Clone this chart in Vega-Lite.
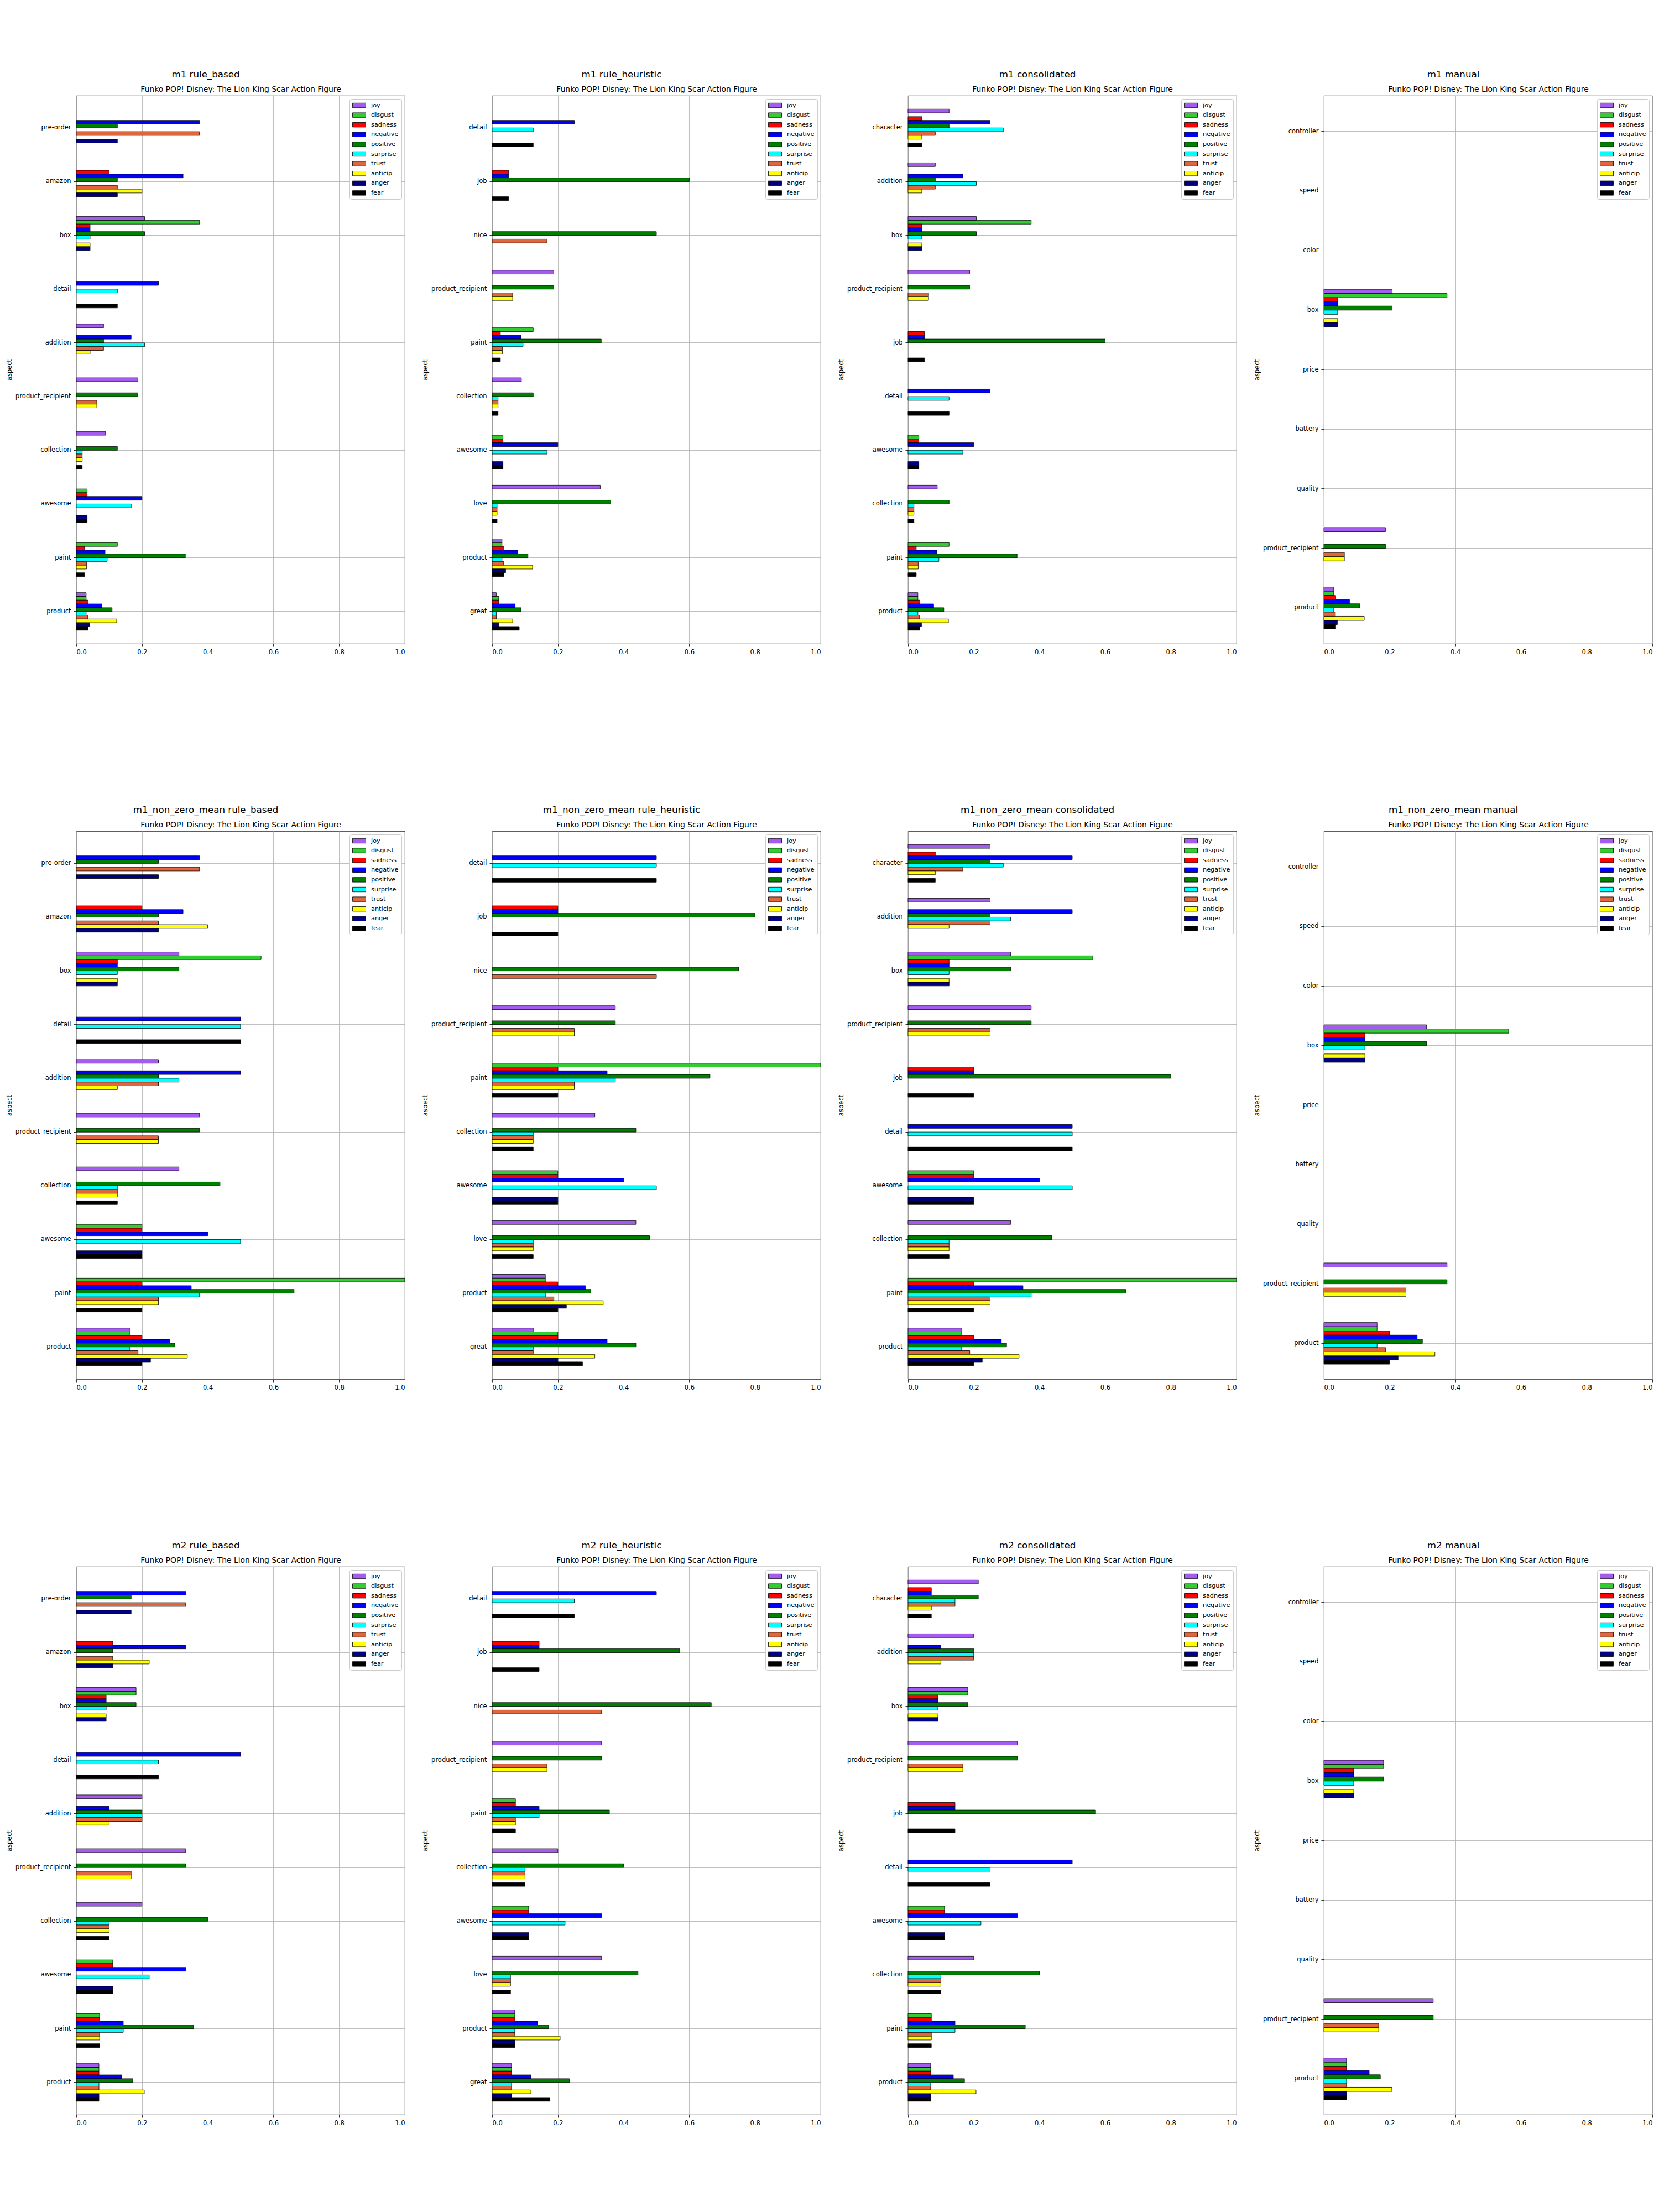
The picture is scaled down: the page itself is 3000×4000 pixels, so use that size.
{
  "$schema": "https://vega.github.io/schema/vega-lite/v6.json",
  "background": "white",
  "padding": {"left": 11, "top": 126, "right": 0, "bottom": 0},
  "config": {
    "font": "DejaVu Sans",
    "view": {"stroke": "black", "strokeWidth": 0.8},
    "axis": {"domain": false, "grid": true, "gridColor": "#b0b0b0", "gridWidth": 0.8, "tickColor": "black", "tickSize": 5, "tickWidth": 0.8, "labelColor": "black", "labelFontSize": 11.5, "labelPadding": 4, "titleFontSize": 11.5, "titleFontWeight": "normal", "titleColor": "black", "zindex": 1},
    "title": {"fontSize": 16.7, "fontWeight": "normal", "color": "black", "anchor": "middle", "frame": "bounds", "offset": 10},
    "legend": {"labelFontSize": 11.3, "labelColor": "black", "symbolType": "M-2,-0.7H2V0.7H-2Z", "symbolSize": 144, "symbolStrokeColor": "black", "symbolStrokeWidth": 0.8, "symbolOffset": 6, "labelOffset": 15, "rowPadding": 4.6, "padding": 5, "strokeColor": "#cccccc", "fillColor": "white", "cornerRadius": 3}
  },
  "datasets": {
    "m1": [
      {"aspect": "pre-order", "emotion": "negative", "value": 0.375},
      {"aspect": "pre-order", "emotion": "positive", "value": 0.125},
      {"aspect": "pre-order", "emotion": "trust", "value": 0.375},
      {"aspect": "pre-order", "emotion": "anger", "value": 0.125},
      {"aspect": "amazon", "emotion": "sadness", "value": 0.1},
      {"aspect": "amazon", "emotion": "negative", "value": 0.325},
      {"aspect": "amazon", "emotion": "positive", "value": 0.125},
      {"aspect": "amazon", "emotion": "trust", "value": 0.125},
      {"aspect": "amazon", "emotion": "anticip", "value": 0.2},
      {"aspect": "amazon", "emotion": "anger", "value": 0.125},
      {"aspect": "box", "emotion": "joy", "value": 0.208},
      {"aspect": "box", "emotion": "disgust", "value": 0.375},
      {"aspect": "box", "emotion": "sadness", "value": 0.042},
      {"aspect": "box", "emotion": "negative", "value": 0.042},
      {"aspect": "box", "emotion": "positive", "value": 0.208},
      {"aspect": "box", "emotion": "surprise", "value": 0.042},
      {"aspect": "box", "emotion": "anticip", "value": 0.042},
      {"aspect": "box", "emotion": "anger", "value": 0.042},
      {"aspect": "detail", "emotion": "negative", "value": 0.25},
      {"aspect": "detail", "emotion": "surprise", "value": 0.125},
      {"aspect": "detail", "emotion": "fear", "value": 0.125},
      {"aspect": "addition", "emotion": "joy", "value": 0.083},
      {"aspect": "addition", "emotion": "negative", "value": 0.167},
      {"aspect": "addition", "emotion": "positive", "value": 0.083},
      {"aspect": "addition", "emotion": "surprise", "value": 0.208},
      {"aspect": "addition", "emotion": "trust", "value": 0.083},
      {"aspect": "addition", "emotion": "anticip", "value": 0.042},
      {"aspect": "product_recipient", "emotion": "joy", "value": 0.1875},
      {"aspect": "product_recipient", "emotion": "positive", "value": 0.1875},
      {"aspect": "product_recipient", "emotion": "trust", "value": 0.0625},
      {"aspect": "product_recipient", "emotion": "anticip", "value": 0.0625},
      {"aspect": "collection", "emotion": "joy", "value": 0.089},
      {"aspect": "collection", "emotion": "positive", "value": 0.125},
      {"aspect": "collection", "emotion": "surprise", "value": 0.018},
      {"aspect": "collection", "emotion": "trust", "value": 0.018},
      {"aspect": "collection", "emotion": "anticip", "value": 0.018},
      {"aspect": "collection", "emotion": "fear", "value": 0.018},
      {"aspect": "awesome", "emotion": "disgust", "value": 0.033},
      {"aspect": "awesome", "emotion": "sadness", "value": 0.033},
      {"aspect": "awesome", "emotion": "negative", "value": 0.2},
      {"aspect": "awesome", "emotion": "surprise", "value": 0.167},
      {"aspect": "awesome", "emotion": "anger", "value": 0.033},
      {"aspect": "awesome", "emotion": "fear", "value": 0.033},
      {"aspect": "paint", "emotion": "disgust", "value": 0.125},
      {"aspect": "paint", "emotion": "sadness", "value": 0.025},
      {"aspect": "paint", "emotion": "negative", "value": 0.0875},
      {"aspect": "paint", "emotion": "positive", "value": 0.332},
      {"aspect": "paint", "emotion": "surprise", "value": 0.094},
      {"aspect": "paint", "emotion": "trust", "value": 0.031},
      {"aspect": "paint", "emotion": "anticip", "value": 0.031},
      {"aspect": "paint", "emotion": "fear", "value": 0.025},
      {"aspect": "product", "emotion": "joy", "value": 0.03},
      {"aspect": "product", "emotion": "disgust", "value": 0.03},
      {"aspect": "product", "emotion": "sadness", "value": 0.036},
      {"aspect": "product", "emotion": "negative", "value": 0.078},
      {"aspect": "product", "emotion": "positive", "value": 0.109},
      {"aspect": "product", "emotion": "surprise", "value": 0.03},
      {"aspect": "product", "emotion": "trust", "value": 0.035},
      {"aspect": "product", "emotion": "anticip", "value": 0.123},
      {"aspect": "product", "emotion": "anger", "value": 0.041},
      {"aspect": "product", "emotion": "fear", "value": 0.036},
      {"aspect": "job", "emotion": "sadness", "value": 0.05},
      {"aspect": "job", "emotion": "negative", "value": 0.05},
      {"aspect": "job", "emotion": "positive", "value": 0.6},
      {"aspect": "job", "emotion": "fear", "value": 0.05},
      {"aspect": "nice", "emotion": "positive", "value": 0.5},
      {"aspect": "nice", "emotion": "trust", "value": 0.167},
      {"aspect": "love", "emotion": "joy", "value": 0.329},
      {"aspect": "love", "emotion": "positive", "value": 0.361},
      {"aspect": "love", "emotion": "surprise", "value": 0.015},
      {"aspect": "love", "emotion": "trust", "value": 0.015},
      {"aspect": "love", "emotion": "anticip", "value": 0.015},
      {"aspect": "love", "emotion": "fear", "value": 0.015},
      {"aspect": "great", "emotion": "joy", "value": 0.0125},
      {"aspect": "great", "emotion": "disgust", "value": 0.02},
      {"aspect": "great", "emotion": "sadness", "value": 0.02},
      {"aspect": "great", "emotion": "negative", "value": 0.07},
      {"aspect": "great", "emotion": "positive", "value": 0.0875},
      {"aspect": "great", "emotion": "surprise", "value": 0.0125},
      {"aspect": "great", "emotion": "trust", "value": 0.0125},
      {"aspect": "great", "emotion": "anticip", "value": 0.0625},
      {"aspect": "great", "emotion": "anger", "value": 0.02},
      {"aspect": "great", "emotion": "fear", "value": 0.0825},
      {"aspect": "character", "emotion": "joy", "value": 0.125},
      {"aspect": "character", "emotion": "sadness", "value": 0.042},
      {"aspect": "character", "emotion": "negative", "value": 0.25},
      {"aspect": "character", "emotion": "positive", "value": 0.125},
      {"aspect": "character", "emotion": "surprise", "value": 0.29},
      {"aspect": "character", "emotion": "trust", "value": 0.083},
      {"aspect": "character", "emotion": "anticip", "value": 0.042},
      {"aspect": "character", "emotion": "fear", "value": 0.042}
    ],
    "m1nz": [
      {"aspect": "pre-order", "emotion": "negative", "value": 0.375},
      {"aspect": "pre-order", "emotion": "positive", "value": 0.25},
      {"aspect": "pre-order", "emotion": "trust", "value": 0.375},
      {"aspect": "pre-order", "emotion": "anger", "value": 0.25},
      {"aspect": "amazon", "emotion": "sadness", "value": 0.2},
      {"aspect": "amazon", "emotion": "negative", "value": 0.325},
      {"aspect": "amazon", "emotion": "positive", "value": 0.25},
      {"aspect": "amazon", "emotion": "trust", "value": 0.25},
      {"aspect": "amazon", "emotion": "anticip", "value": 0.4},
      {"aspect": "amazon", "emotion": "anger", "value": 0.25},
      {"aspect": "box", "emotion": "joy", "value": 0.3125},
      {"aspect": "box", "emotion": "disgust", "value": 0.5625},
      {"aspect": "box", "emotion": "sadness", "value": 0.125},
      {"aspect": "box", "emotion": "negative", "value": 0.125},
      {"aspect": "box", "emotion": "positive", "value": 0.3125},
      {"aspect": "box", "emotion": "surprise", "value": 0.125},
      {"aspect": "box", "emotion": "anticip", "value": 0.125},
      {"aspect": "box", "emotion": "anger", "value": 0.125},
      {"aspect": "detail", "emotion": "negative", "value": 0.5},
      {"aspect": "detail", "emotion": "surprise", "value": 0.5},
      {"aspect": "detail", "emotion": "fear", "value": 0.5},
      {"aspect": "addition", "emotion": "joy", "value": 0.25},
      {"aspect": "addition", "emotion": "negative", "value": 0.5},
      {"aspect": "addition", "emotion": "positive", "value": 0.25},
      {"aspect": "addition", "emotion": "surprise", "value": 0.3125},
      {"aspect": "addition", "emotion": "trust", "value": 0.25},
      {"aspect": "addition", "emotion": "anticip", "value": 0.125},
      {"aspect": "product_recipient", "emotion": "joy", "value": 0.375},
      {"aspect": "product_recipient", "emotion": "positive", "value": 0.375},
      {"aspect": "product_recipient", "emotion": "trust", "value": 0.25},
      {"aspect": "product_recipient", "emotion": "anticip", "value": 0.25},
      {"aspect": "collection", "emotion": "joy", "value": 0.3125},
      {"aspect": "collection", "emotion": "positive", "value": 0.4375},
      {"aspect": "collection", "emotion": "surprise", "value": 0.125},
      {"aspect": "collection", "emotion": "trust", "value": 0.125},
      {"aspect": "collection", "emotion": "anticip", "value": 0.125},
      {"aspect": "collection", "emotion": "fear", "value": 0.125},
      {"aspect": "awesome", "emotion": "disgust", "value": 0.2},
      {"aspect": "awesome", "emotion": "sadness", "value": 0.2},
      {"aspect": "awesome", "emotion": "negative", "value": 0.4},
      {"aspect": "awesome", "emotion": "surprise", "value": 0.5},
      {"aspect": "awesome", "emotion": "anger", "value": 0.2},
      {"aspect": "awesome", "emotion": "fear", "value": 0.2},
      {"aspect": "paint", "emotion": "disgust", "value": 1.0},
      {"aspect": "paint", "emotion": "sadness", "value": 0.2},
      {"aspect": "paint", "emotion": "negative", "value": 0.35},
      {"aspect": "paint", "emotion": "positive", "value": 0.663},
      {"aspect": "paint", "emotion": "surprise", "value": 0.375},
      {"aspect": "paint", "emotion": "trust", "value": 0.25},
      {"aspect": "paint", "emotion": "anticip", "value": 0.25},
      {"aspect": "paint", "emotion": "fear", "value": 0.2},
      {"aspect": "product", "emotion": "joy", "value": 0.162},
      {"aspect": "product", "emotion": "disgust", "value": 0.162},
      {"aspect": "product", "emotion": "sadness", "value": 0.2},
      {"aspect": "product", "emotion": "negative", "value": 0.284},
      {"aspect": "product", "emotion": "positive", "value": 0.3},
      {"aspect": "product", "emotion": "surprise", "value": 0.162},
      {"aspect": "product", "emotion": "trust", "value": 0.188},
      {"aspect": "product", "emotion": "anticip", "value": 0.338},
      {"aspect": "product", "emotion": "anger", "value": 0.226},
      {"aspect": "product", "emotion": "fear", "value": 0.2},
      {"aspect": "job", "emotion": "sadness", "value": 0.2},
      {"aspect": "job", "emotion": "negative", "value": 0.2},
      {"aspect": "job", "emotion": "positive", "value": 0.8},
      {"aspect": "job", "emotion": "fear", "value": 0.2},
      {"aspect": "nice", "emotion": "positive", "value": 0.75},
      {"aspect": "nice", "emotion": "trust", "value": 0.5},
      {"aspect": "love", "emotion": "joy", "value": 0.4375},
      {"aspect": "love", "emotion": "positive", "value": 0.479},
      {"aspect": "love", "emotion": "surprise", "value": 0.125},
      {"aspect": "love", "emotion": "trust", "value": 0.125},
      {"aspect": "love", "emotion": "anticip", "value": 0.125},
      {"aspect": "love", "emotion": "fear", "value": 0.125},
      {"aspect": "great", "emotion": "joy", "value": 0.125},
      {"aspect": "great", "emotion": "disgust", "value": 0.2},
      {"aspect": "great", "emotion": "sadness", "value": 0.2},
      {"aspect": "great", "emotion": "negative", "value": 0.35},
      {"aspect": "great", "emotion": "positive", "value": 0.4375},
      {"aspect": "great", "emotion": "surprise", "value": 0.125},
      {"aspect": "great", "emotion": "trust", "value": 0.125},
      {"aspect": "great", "emotion": "anticip", "value": 0.3125},
      {"aspect": "great", "emotion": "anger", "value": 0.2},
      {"aspect": "great", "emotion": "fear", "value": 0.275},
      {"aspect": "character", "emotion": "joy", "value": 0.25},
      {"aspect": "character", "emotion": "sadness", "value": 0.083},
      {"aspect": "character", "emotion": "negative", "value": 0.5},
      {"aspect": "character", "emotion": "positive", "value": 0.25},
      {"aspect": "character", "emotion": "surprise", "value": 0.29},
      {"aspect": "character", "emotion": "trust", "value": 0.167},
      {"aspect": "character", "emotion": "anticip", "value": 0.083},
      {"aspect": "character", "emotion": "fear", "value": 0.083}
    ],
    "m2": [
      {"aspect": "pre-order", "emotion": "negative", "value": 0.333},
      {"aspect": "pre-order", "emotion": "positive", "value": 0.167},
      {"aspect": "pre-order", "emotion": "trust", "value": 0.333},
      {"aspect": "pre-order", "emotion": "anger", "value": 0.167},
      {"aspect": "amazon", "emotion": "sadness", "value": 0.111},
      {"aspect": "amazon", "emotion": "negative", "value": 0.333},
      {"aspect": "amazon", "emotion": "positive", "value": 0.111},
      {"aspect": "amazon", "emotion": "trust", "value": 0.111},
      {"aspect": "amazon", "emotion": "anticip", "value": 0.222},
      {"aspect": "amazon", "emotion": "anger", "value": 0.111},
      {"aspect": "box", "emotion": "joy", "value": 0.182},
      {"aspect": "box", "emotion": "disgust", "value": 0.182},
      {"aspect": "box", "emotion": "sadness", "value": 0.091},
      {"aspect": "box", "emotion": "negative", "value": 0.091},
      {"aspect": "box", "emotion": "positive", "value": 0.182},
      {"aspect": "box", "emotion": "surprise", "value": 0.091},
      {"aspect": "box", "emotion": "anticip", "value": 0.091},
      {"aspect": "box", "emotion": "anger", "value": 0.091},
      {"aspect": "detail", "emotion": "negative", "value": 0.5},
      {"aspect": "detail", "emotion": "surprise", "value": 0.25},
      {"aspect": "detail", "emotion": "fear", "value": 0.25},
      {"aspect": "addition", "emotion": "joy", "value": 0.2},
      {"aspect": "addition", "emotion": "negative", "value": 0.1},
      {"aspect": "addition", "emotion": "positive", "value": 0.2},
      {"aspect": "addition", "emotion": "surprise", "value": 0.2},
      {"aspect": "addition", "emotion": "trust", "value": 0.2},
      {"aspect": "addition", "emotion": "anticip", "value": 0.1},
      {"aspect": "product_recipient", "emotion": "joy", "value": 0.333},
      {"aspect": "product_recipient", "emotion": "positive", "value": 0.333},
      {"aspect": "product_recipient", "emotion": "trust", "value": 0.167},
      {"aspect": "product_recipient", "emotion": "anticip", "value": 0.167},
      {"aspect": "collection", "emotion": "joy", "value": 0.2},
      {"aspect": "collection", "emotion": "positive", "value": 0.4},
      {"aspect": "collection", "emotion": "surprise", "value": 0.1},
      {"aspect": "collection", "emotion": "trust", "value": 0.1},
      {"aspect": "collection", "emotion": "anticip", "value": 0.1},
      {"aspect": "collection", "emotion": "fear", "value": 0.1},
      {"aspect": "awesome", "emotion": "disgust", "value": 0.111},
      {"aspect": "awesome", "emotion": "sadness", "value": 0.111},
      {"aspect": "awesome", "emotion": "negative", "value": 0.333},
      {"aspect": "awesome", "emotion": "surprise", "value": 0.222},
      {"aspect": "awesome", "emotion": "anger", "value": 0.111},
      {"aspect": "awesome", "emotion": "fear", "value": 0.111},
      {"aspect": "paint", "emotion": "disgust", "value": 0.071},
      {"aspect": "paint", "emotion": "sadness", "value": 0.071},
      {"aspect": "paint", "emotion": "negative", "value": 0.143},
      {"aspect": "paint", "emotion": "positive", "value": 0.357},
      {"aspect": "paint", "emotion": "surprise", "value": 0.143},
      {"aspect": "paint", "emotion": "trust", "value": 0.071},
      {"aspect": "paint", "emotion": "anticip", "value": 0.071},
      {"aspect": "paint", "emotion": "fear", "value": 0.071},
      {"aspect": "product", "emotion": "joy", "value": 0.069},
      {"aspect": "product", "emotion": "disgust", "value": 0.069},
      {"aspect": "product", "emotion": "sadness", "value": 0.069},
      {"aspect": "product", "emotion": "negative", "value": 0.138},
      {"aspect": "product", "emotion": "positive", "value": 0.172},
      {"aspect": "product", "emotion": "surprise", "value": 0.069},
      {"aspect": "product", "emotion": "trust", "value": 0.069},
      {"aspect": "product", "emotion": "anticip", "value": 0.207},
      {"aspect": "product", "emotion": "anger", "value": 0.069},
      {"aspect": "product", "emotion": "fear", "value": 0.069},
      {"aspect": "job", "emotion": "sadness", "value": 0.143},
      {"aspect": "job", "emotion": "negative", "value": 0.143},
      {"aspect": "job", "emotion": "positive", "value": 0.571},
      {"aspect": "job", "emotion": "fear", "value": 0.143},
      {"aspect": "nice", "emotion": "positive", "value": 0.667},
      {"aspect": "nice", "emotion": "trust", "value": 0.333},
      {"aspect": "love", "emotion": "joy", "value": 0.333},
      {"aspect": "love", "emotion": "positive", "value": 0.444},
      {"aspect": "love", "emotion": "surprise", "value": 0.056},
      {"aspect": "love", "emotion": "trust", "value": 0.056},
      {"aspect": "love", "emotion": "anticip", "value": 0.056},
      {"aspect": "love", "emotion": "fear", "value": 0.056},
      {"aspect": "great", "emotion": "joy", "value": 0.059},
      {"aspect": "great", "emotion": "disgust", "value": 0.059},
      {"aspect": "great", "emotion": "sadness", "value": 0.059},
      {"aspect": "great", "emotion": "negative", "value": 0.118},
      {"aspect": "great", "emotion": "positive", "value": 0.235},
      {"aspect": "great", "emotion": "surprise", "value": 0.059},
      {"aspect": "great", "emotion": "trust", "value": 0.059},
      {"aspect": "great", "emotion": "anticip", "value": 0.118},
      {"aspect": "great", "emotion": "anger", "value": 0.059},
      {"aspect": "great", "emotion": "fear", "value": 0.176},
      {"aspect": "character", "emotion": "joy", "value": 0.214},
      {"aspect": "character", "emotion": "sadness", "value": 0.071},
      {"aspect": "character", "emotion": "negative", "value": 0.071},
      {"aspect": "character", "emotion": "positive", "value": 0.214},
      {"aspect": "character", "emotion": "surprise", "value": 0.143},
      {"aspect": "character", "emotion": "trust", "value": 0.143},
      {"aspect": "character", "emotion": "anticip", "value": 0.071},
      {"aspect": "character", "emotion": "fear", "value": 0.071}
    ]
  },
  "columns": 4,
  "spacing": {"row": 271, "column": 30},
  "resolve": {"scale": {"x": "independent", "y": "independent", "yOffset": "independent"}, "legend": {"color": "independent"}},
  "concat": [
    {"title": "m1 rule_based", "width": 594, "height": 991, "data": {"name": "m1"}, "transform": [{"filter": {"field": "aspect", "oneOf": ["pre-order","amazon","box","detail","addition","product_recipient","collection","awesome","paint","product"]}}],
     "resolve": {"axis": {"x": "independent"}},
     "layer": [
      {"mark": {"type": "bar", "stroke": "black", "strokeWidth": 0.8},
       "encoding": {
        "y": {"field": "aspect", "type": "nominal", "title": "aspect", "scale": {"domain": ["pre-order","amazon","box","detail","addition","product_recipient","collection","awesome","paint","product"], "paddingInner": 0.3, "paddingOuter": 0.25}, "axis": {"bandPosition": 0.5, "labelPadding": 5, "titlePadding": 5}},
        "yOffset": {"field": "emotion", "type": "nominal", "scale": {"domain": ["joy","disgust","sadness","negative","positive","surprise","trust","anticip","anger","fear"]}},
        "x": {"field": "value", "type": "quantitative", "title": null, "scale": {"domain": [0, 1], "nice": false}, "axis": {"orient": "bottom", "values": [0, 0.2, 0.4, 0.6, 0.8, 1], "format": ".1f"}},
        "color": {"field": "emotion", "type": "nominal", "scale": {"domain": ["joy","disgust","sadness","negative","positive","surprise","trust","anticip","anger","fear"], "range": ["#a45cf0","#32cd32","#ff0000","#0000ff","#008000","#00ffff","#e0663e","#ffff00","#000080","#000000"]}, "legend": {"title": null, "orient": "top-right", "offset": 6}}}},
      {"transform": [{"aggregate": [{"op": "max", "field": "value", "as": "maxv"}]}], "mark": {"type": "rule", "opacity": 0},
       "encoding": {"x": {"field": "maxv", "type": "quantitative", "scale": {"domain": [0, 1], "nice": false}, "axis": {"orient": "top", "title": "Funko POP! Disney: The Lion King Scar Action Figure", "titleFontSize": 13.9, "titlePadding": 5, "labels": false, "ticks": false, "grid": false, "domain": false}}}}
     ]},
    {"title": "m1 rule_heuristic", "width": 594, "height": 991, "data": {"name": "m1"}, "transform": [{"filter": {"field": "aspect", "oneOf": ["detail","job","nice","product_recipient","paint","collection","awesome","love","product","great"]}}],
     "resolve": {"axis": {"x": "independent"}},
     "layer": [
      {"mark": {"type": "bar", "stroke": "black", "strokeWidth": 0.8},
       "encoding": {
        "y": {"field": "aspect", "type": "nominal", "title": "aspect", "scale": {"domain": ["detail","job","nice","product_recipient","paint","collection","awesome","love","product","great"], "paddingInner": 0.3, "paddingOuter": 0.25}, "axis": {"bandPosition": 0.5, "labelPadding": 5, "titlePadding": 5}},
        "yOffset": {"field": "emotion", "type": "nominal", "scale": {"domain": ["joy","disgust","sadness","negative","positive","surprise","trust","anticip","anger","fear"]}},
        "x": {"field": "value", "type": "quantitative", "title": null, "scale": {"domain": [0, 1], "nice": false}, "axis": {"orient": "bottom", "values": [0, 0.2, 0.4, 0.6, 0.8, 1], "format": ".1f"}},
        "color": {"field": "emotion", "type": "nominal", "scale": {"domain": ["joy","disgust","sadness","negative","positive","surprise","trust","anticip","anger","fear"], "range": ["#a45cf0","#32cd32","#ff0000","#0000ff","#008000","#00ffff","#e0663e","#ffff00","#000080","#000000"]}, "legend": {"title": null, "orient": "top-right", "offset": 6}}}},
      {"transform": [{"aggregate": [{"op": "max", "field": "value", "as": "maxv"}]}], "mark": {"type": "rule", "opacity": 0},
       "encoding": {"x": {"field": "maxv", "type": "quantitative", "scale": {"domain": [0, 1], "nice": false}, "axis": {"orient": "top", "title": "Funko POP! Disney: The Lion King Scar Action Figure", "titleFontSize": 13.9, "titlePadding": 5, "labels": false, "ticks": false, "grid": false, "domain": false}}}}
     ]},
    {"title": "m1 consolidated", "width": 594, "height": 991, "data": {"name": "m1"}, "transform": [{"filter": {"field": "aspect", "oneOf": ["character","addition","box","product_recipient","job","detail","awesome","collection","paint","product"]}}],
     "resolve": {"axis": {"x": "independent"}},
     "layer": [
      {"mark": {"type": "bar", "stroke": "black", "strokeWidth": 0.8},
       "encoding": {
        "y": {"field": "aspect", "type": "nominal", "title": "aspect", "scale": {"domain": ["character","addition","box","product_recipient","job","detail","awesome","collection","paint","product"], "paddingInner": 0.3, "paddingOuter": 0.25}, "axis": {"bandPosition": 0.5, "labelPadding": 5, "titlePadding": 5}},
        "yOffset": {"field": "emotion", "type": "nominal", "scale": {"domain": ["joy","disgust","sadness","negative","positive","surprise","trust","anticip","anger","fear"]}},
        "x": {"field": "value", "type": "quantitative", "title": null, "scale": {"domain": [0, 1], "nice": false}, "axis": {"orient": "bottom", "values": [0, 0.2, 0.4, 0.6, 0.8, 1], "format": ".1f"}},
        "color": {"field": "emotion", "type": "nominal", "scale": {"domain": ["joy","disgust","sadness","negative","positive","surprise","trust","anticip","anger","fear"], "range": ["#a45cf0","#32cd32","#ff0000","#0000ff","#008000","#00ffff","#e0663e","#ffff00","#000080","#000000"]}, "legend": {"title": null, "orient": "top-right", "offset": 6}}}},
      {"transform": [{"aggregate": [{"op": "max", "field": "value", "as": "maxv"}]}], "mark": {"type": "rule", "opacity": 0},
       "encoding": {"x": {"field": "maxv", "type": "quantitative", "scale": {"domain": [0, 1], "nice": false}, "axis": {"orient": "top", "title": "Funko POP! Disney: The Lion King Scar Action Figure", "titleFontSize": 13.9, "titlePadding": 5, "labels": false, "ticks": false, "grid": false, "domain": false}}}}
     ]},
    {"title": "m1 manual", "width": 594, "height": 991, "data": {"name": "m1"}, "transform": [{"filter": {"field": "aspect", "oneOf": ["controller","speed","color","box","price","battery","quality","product_recipient","product"]}}],
     "resolve": {"axis": {"x": "independent"}},
     "layer": [
      {"mark": {"type": "bar", "stroke": "black", "strokeWidth": 0.8},
       "encoding": {
        "y": {"field": "aspect", "type": "nominal", "title": "aspect", "scale": {"domain": ["controller","speed","color","box","price","battery","quality","product_recipient","product"], "paddingInner": 0.3, "paddingOuter": 0.25}, "axis": {"bandPosition": 0.5, "labelPadding": 5, "titlePadding": 5}},
        "yOffset": {"field": "emotion", "type": "nominal", "scale": {"domain": ["joy","disgust","sadness","negative","positive","surprise","trust","anticip","anger","fear"]}},
        "x": {"field": "value", "type": "quantitative", "title": null, "scale": {"domain": [0, 1], "nice": false}, "axis": {"orient": "bottom", "values": [0, 0.2, 0.4, 0.6, 0.8, 1], "format": ".1f"}},
        "color": {"field": "emotion", "type": "nominal", "scale": {"domain": ["joy","disgust","sadness","negative","positive","surprise","trust","anticip","anger","fear"], "range": ["#a45cf0","#32cd32","#ff0000","#0000ff","#008000","#00ffff","#e0663e","#ffff00","#000080","#000000"]}, "legend": {"title": null, "orient": "top-right", "offset": 6}}}},
      {"transform": [{"aggregate": [{"op": "max", "field": "value", "as": "maxv"}]}], "mark": {"type": "rule", "opacity": 0},
       "encoding": {"x": {"field": "maxv", "type": "quantitative", "scale": {"domain": [0, 1], "nice": false}, "axis": {"orient": "top", "title": "Funko POP! Disney: The Lion King Scar Action Figure", "titleFontSize": 13.9, "titlePadding": 5, "labels": false, "ticks": false, "grid": false, "domain": false}}}}
     ]},
    {"title": "m1_non_zero_mean rule_based", "width": 594, "height": 991, "data": {"name": "m1nz"}, "transform": [{"filter": {"field": "aspect", "oneOf": ["pre-order","amazon","box","detail","addition","product_recipient","collection","awesome","paint","product"]}}],
     "resolve": {"axis": {"x": "independent"}},
     "layer": [
      {"mark": {"type": "bar", "stroke": "black", "strokeWidth": 0.8},
       "encoding": {
        "y": {"field": "aspect", "type": "nominal", "title": "aspect", "scale": {"domain": ["pre-order","amazon","box","detail","addition","product_recipient","collection","awesome","paint","product"], "paddingInner": 0.3, "paddingOuter": 0.25}, "axis": {"bandPosition": 0.5, "labelPadding": 5, "titlePadding": 5}},
        "yOffset": {"field": "emotion", "type": "nominal", "scale": {"domain": ["joy","disgust","sadness","negative","positive","surprise","trust","anticip","anger","fear"]}},
        "x": {"field": "value", "type": "quantitative", "title": null, "scale": {"domain": [0, 1], "nice": false}, "axis": {"orient": "bottom", "values": [0, 0.2, 0.4, 0.6, 0.8, 1], "format": ".1f"}},
        "color": {"field": "emotion", "type": "nominal", "scale": {"domain": ["joy","disgust","sadness","negative","positive","surprise","trust","anticip","anger","fear"], "range": ["#a45cf0","#32cd32","#ff0000","#0000ff","#008000","#00ffff","#e0663e","#ffff00","#000080","#000000"]}, "legend": {"title": null, "orient": "top-right", "offset": 6}}}},
      {"transform": [{"aggregate": [{"op": "max", "field": "value", "as": "maxv"}]}], "mark": {"type": "rule", "opacity": 0},
       "encoding": {"x": {"field": "maxv", "type": "quantitative", "scale": {"domain": [0, 1], "nice": false}, "axis": {"orient": "top", "title": "Funko POP! Disney: The Lion King Scar Action Figure", "titleFontSize": 13.9, "titlePadding": 5, "labels": false, "ticks": false, "grid": false, "domain": false}}}}
     ]},
    {"title": "m1_non_zero_mean rule_heuristic", "width": 594, "height": 991, "data": {"name": "m1nz"}, "transform": [{"filter": {"field": "aspect", "oneOf": ["detail","job","nice","product_recipient","paint","collection","awesome","love","product","great"]}}],
     "resolve": {"axis": {"x": "independent"}},
     "layer": [
      {"mark": {"type": "bar", "stroke": "black", "strokeWidth": 0.8},
       "encoding": {
        "y": {"field": "aspect", "type": "nominal", "title": "aspect", "scale": {"domain": ["detail","job","nice","product_recipient","paint","collection","awesome","love","product","great"], "paddingInner": 0.3, "paddingOuter": 0.25}, "axis": {"bandPosition": 0.5, "labelPadding": 5, "titlePadding": 5}},
        "yOffset": {"field": "emotion", "type": "nominal", "scale": {"domain": ["joy","disgust","sadness","negative","positive","surprise","trust","anticip","anger","fear"]}},
        "x": {"field": "value", "type": "quantitative", "title": null, "scale": {"domain": [0, 1], "nice": false}, "axis": {"orient": "bottom", "values": [0, 0.2, 0.4, 0.6, 0.8, 1], "format": ".1f"}},
        "color": {"field": "emotion", "type": "nominal", "scale": {"domain": ["joy","disgust","sadness","negative","positive","surprise","trust","anticip","anger","fear"], "range": ["#a45cf0","#32cd32","#ff0000","#0000ff","#008000","#00ffff","#e0663e","#ffff00","#000080","#000000"]}, "legend": {"title": null, "orient": "top-right", "offset": 6}}}},
      {"transform": [{"aggregate": [{"op": "max", "field": "value", "as": "maxv"}]}], "mark": {"type": "rule", "opacity": 0},
       "encoding": {"x": {"field": "maxv", "type": "quantitative", "scale": {"domain": [0, 1], "nice": false}, "axis": {"orient": "top", "title": "Funko POP! Disney: The Lion King Scar Action Figure", "titleFontSize": 13.9, "titlePadding": 5, "labels": false, "ticks": false, "grid": false, "domain": false}}}}
     ]},
    {"title": "m1_non_zero_mean consolidated", "width": 594, "height": 991, "data": {"name": "m1nz"}, "transform": [{"filter": {"field": "aspect", "oneOf": ["character","addition","box","product_recipient","job","detail","awesome","collection","paint","product"]}}],
     "resolve": {"axis": {"x": "independent"}},
     "layer": [
      {"mark": {"type": "bar", "stroke": "black", "strokeWidth": 0.8},
       "encoding": {
        "y": {"field": "aspect", "type": "nominal", "title": "aspect", "scale": {"domain": ["character","addition","box","product_recipient","job","detail","awesome","collection","paint","product"], "paddingInner": 0.3, "paddingOuter": 0.25}, "axis": {"bandPosition": 0.5, "labelPadding": 5, "titlePadding": 5}},
        "yOffset": {"field": "emotion", "type": "nominal", "scale": {"domain": ["joy","disgust","sadness","negative","positive","surprise","trust","anticip","anger","fear"]}},
        "x": {"field": "value", "type": "quantitative", "title": null, "scale": {"domain": [0, 1], "nice": false}, "axis": {"orient": "bottom", "values": [0, 0.2, 0.4, 0.6, 0.8, 1], "format": ".1f"}},
        "color": {"field": "emotion", "type": "nominal", "scale": {"domain": ["joy","disgust","sadness","negative","positive","surprise","trust","anticip","anger","fear"], "range": ["#a45cf0","#32cd32","#ff0000","#0000ff","#008000","#00ffff","#e0663e","#ffff00","#000080","#000000"]}, "legend": {"title": null, "orient": "top-right", "offset": 6}}}},
      {"transform": [{"aggregate": [{"op": "max", "field": "value", "as": "maxv"}]}], "mark": {"type": "rule", "opacity": 0},
       "encoding": {"x": {"field": "maxv", "type": "quantitative", "scale": {"domain": [0, 1], "nice": false}, "axis": {"orient": "top", "title": "Funko POP! Disney: The Lion King Scar Action Figure", "titleFontSize": 13.9, "titlePadding": 5, "labels": false, "ticks": false, "grid": false, "domain": false}}}}
     ]},
    {"title": "m1_non_zero_mean manual", "width": 594, "height": 991, "data": {"name": "m1nz"}, "transform": [{"filter": {"field": "aspect", "oneOf": ["controller","speed","color","box","price","battery","quality","product_recipient","product"]}}],
     "resolve": {"axis": {"x": "independent"}},
     "layer": [
      {"mark": {"type": "bar", "stroke": "black", "strokeWidth": 0.8},
       "encoding": {
        "y": {"field": "aspect", "type": "nominal", "title": "aspect", "scale": {"domain": ["controller","speed","color","box","price","battery","quality","product_recipient","product"], "paddingInner": 0.3, "paddingOuter": 0.25}, "axis": {"bandPosition": 0.5, "labelPadding": 5, "titlePadding": 5}},
        "yOffset": {"field": "emotion", "type": "nominal", "scale": {"domain": ["joy","disgust","sadness","negative","positive","surprise","trust","anticip","anger","fear"]}},
        "x": {"field": "value", "type": "quantitative", "title": null, "scale": {"domain": [0, 1], "nice": false}, "axis": {"orient": "bottom", "values": [0, 0.2, 0.4, 0.6, 0.8, 1], "format": ".1f"}},
        "color": {"field": "emotion", "type": "nominal", "scale": {"domain": ["joy","disgust","sadness","negative","positive","surprise","trust","anticip","anger","fear"], "range": ["#a45cf0","#32cd32","#ff0000","#0000ff","#008000","#00ffff","#e0663e","#ffff00","#000080","#000000"]}, "legend": {"title": null, "orient": "top-right", "offset": 6}}}},
      {"transform": [{"aggregate": [{"op": "max", "field": "value", "as": "maxv"}]}], "mark": {"type": "rule", "opacity": 0},
       "encoding": {"x": {"field": "maxv", "type": "quantitative", "scale": {"domain": [0, 1], "nice": false}, "axis": {"orient": "top", "title": "Funko POP! Disney: The Lion King Scar Action Figure", "titleFontSize": 13.9, "titlePadding": 5, "labels": false, "ticks": false, "grid": false, "domain": false}}}}
     ]},
    {"title": "m2 rule_based", "width": 594, "height": 991, "data": {"name": "m2"}, "transform": [{"filter": {"field": "aspect", "oneOf": ["pre-order","amazon","box","detail","addition","product_recipient","collection","awesome","paint","product"]}}],
     "resolve": {"axis": {"x": "independent"}},
     "layer": [
      {"mark": {"type": "bar", "stroke": "black", "strokeWidth": 0.8},
       "encoding": {
        "y": {"field": "aspect", "type": "nominal", "title": "aspect", "scale": {"domain": ["pre-order","amazon","box","detail","addition","product_recipient","collection","awesome","paint","product"], "paddingInner": 0.3, "paddingOuter": 0.25}, "axis": {"bandPosition": 0.5, "labelPadding": 5, "titlePadding": 5}},
        "yOffset": {"field": "emotion", "type": "nominal", "scale": {"domain": ["joy","disgust","sadness","negative","positive","surprise","trust","anticip","anger","fear"]}},
        "x": {"field": "value", "type": "quantitative", "title": null, "scale": {"domain": [0, 1], "nice": false}, "axis": {"orient": "bottom", "values": [0, 0.2, 0.4, 0.6, 0.8, 1], "format": ".1f"}},
        "color": {"field": "emotion", "type": "nominal", "scale": {"domain": ["joy","disgust","sadness","negative","positive","surprise","trust","anticip","anger","fear"], "range": ["#a45cf0","#32cd32","#ff0000","#0000ff","#008000","#00ffff","#e0663e","#ffff00","#000080","#000000"]}, "legend": {"title": null, "orient": "top-right", "offset": 6}}}},
      {"transform": [{"aggregate": [{"op": "max", "field": "value", "as": "maxv"}]}], "mark": {"type": "rule", "opacity": 0},
       "encoding": {"x": {"field": "maxv", "type": "quantitative", "scale": {"domain": [0, 1], "nice": false}, "axis": {"orient": "top", "title": "Funko POP! Disney: The Lion King Scar Action Figure", "titleFontSize": 13.9, "titlePadding": 5, "labels": false, "ticks": false, "grid": false, "domain": false}}}}
     ]},
    {"title": "m2 rule_heuristic", "width": 594, "height": 991, "data": {"name": "m2"}, "transform": [{"filter": {"field": "aspect", "oneOf": ["detail","job","nice","product_recipient","paint","collection","awesome","love","product","great"]}}],
     "resolve": {"axis": {"x": "independent"}},
     "layer": [
      {"mark": {"type": "bar", "stroke": "black", "strokeWidth": 0.8},
       "encoding": {
        "y": {"field": "aspect", "type": "nominal", "title": "aspect", "scale": {"domain": ["detail","job","nice","product_recipient","paint","collection","awesome","love","product","great"], "paddingInner": 0.3, "paddingOuter": 0.25}, "axis": {"bandPosition": 0.5, "labelPadding": 5, "titlePadding": 5}},
        "yOffset": {"field": "emotion", "type": "nominal", "scale": {"domain": ["joy","disgust","sadness","negative","positive","surprise","trust","anticip","anger","fear"]}},
        "x": {"field": "value", "type": "quantitative", "title": null, "scale": {"domain": [0, 1], "nice": false}, "axis": {"orient": "bottom", "values": [0, 0.2, 0.4, 0.6, 0.8, 1], "format": ".1f"}},
        "color": {"field": "emotion", "type": "nominal", "scale": {"domain": ["joy","disgust","sadness","negative","positive","surprise","trust","anticip","anger","fear"], "range": ["#a45cf0","#32cd32","#ff0000","#0000ff","#008000","#00ffff","#e0663e","#ffff00","#000080","#000000"]}, "legend": {"title": null, "orient": "top-right", "offset": 6}}}},
      {"transform": [{"aggregate": [{"op": "max", "field": "value", "as": "maxv"}]}], "mark": {"type": "rule", "opacity": 0},
       "encoding": {"x": {"field": "maxv", "type": "quantitative", "scale": {"domain": [0, 1], "nice": false}, "axis": {"orient": "top", "title": "Funko POP! Disney: The Lion King Scar Action Figure", "titleFontSize": 13.9, "titlePadding": 5, "labels": false, "ticks": false, "grid": false, "domain": false}}}}
     ]},
    {"title": "m2 consolidated", "width": 594, "height": 991, "data": {"name": "m2"}, "transform": [{"filter": {"field": "aspect", "oneOf": ["character","addition","box","product_recipient","job","detail","awesome","collection","paint","product"]}}],
     "resolve": {"axis": {"x": "independent"}},
     "layer": [
      {"mark": {"type": "bar", "stroke": "black", "strokeWidth": 0.8},
       "encoding": {
        "y": {"field": "aspect", "type": "nominal", "title": "aspect", "scale": {"domain": ["character","addition","box","product_recipient","job","detail","awesome","collection","paint","product"], "paddingInner": 0.3, "paddingOuter": 0.25}, "axis": {"bandPosition": 0.5, "labelPadding": 5, "titlePadding": 5}},
        "yOffset": {"field": "emotion", "type": "nominal", "scale": {"domain": ["joy","disgust","sadness","negative","positive","surprise","trust","anticip","anger","fear"]}},
        "x": {"field": "value", "type": "quantitative", "title": null, "scale": {"domain": [0, 1], "nice": false}, "axis": {"orient": "bottom", "values": [0, 0.2, 0.4, 0.6, 0.8, 1], "format": ".1f"}},
        "color": {"field": "emotion", "type": "nominal", "scale": {"domain": ["joy","disgust","sadness","negative","positive","surprise","trust","anticip","anger","fear"], "range": ["#a45cf0","#32cd32","#ff0000","#0000ff","#008000","#00ffff","#e0663e","#ffff00","#000080","#000000"]}, "legend": {"title": null, "orient": "top-right", "offset": 6}}}},
      {"transform": [{"aggregate": [{"op": "max", "field": "value", "as": "maxv"}]}], "mark": {"type": "rule", "opacity": 0},
       "encoding": {"x": {"field": "maxv", "type": "quantitative", "scale": {"domain": [0, 1], "nice": false}, "axis": {"orient": "top", "title": "Funko POP! Disney: The Lion King Scar Action Figure", "titleFontSize": 13.9, "titlePadding": 5, "labels": false, "ticks": false, "grid": false, "domain": false}}}}
     ]},
    {"title": "m2 manual", "width": 594, "height": 991, "data": {"name": "m2"}, "transform": [{"filter": {"field": "aspect", "oneOf": ["controller","speed","color","box","price","battery","quality","product_recipient","product"]}}],
     "resolve": {"axis": {"x": "independent"}},
     "layer": [
      {"mark": {"type": "bar", "stroke": "black", "strokeWidth": 0.8},
       "encoding": {
        "y": {"field": "aspect", "type": "nominal", "title": "aspect", "scale": {"domain": ["controller","speed","color","box","price","battery","quality","product_recipient","product"], "paddingInner": 0.3, "paddingOuter": 0.25}, "axis": {"bandPosition": 0.5, "labelPadding": 5, "titlePadding": 5}},
        "yOffset": {"field": "emotion", "type": "nominal", "scale": {"domain": ["joy","disgust","sadness","negative","positive","surprise","trust","anticip","anger","fear"]}},
        "x": {"field": "value", "type": "quantitative", "title": null, "scale": {"domain": [0, 1], "nice": false}, "axis": {"orient": "bottom", "values": [0, 0.2, 0.4, 0.6, 0.8, 1], "format": ".1f"}},
        "color": {"field": "emotion", "type": "nominal", "scale": {"domain": ["joy","disgust","sadness","negative","positive","surprise","trust","anticip","anger","fear"], "range": ["#a45cf0","#32cd32","#ff0000","#0000ff","#008000","#00ffff","#e0663e","#ffff00","#000080","#000000"]}, "legend": {"title": null, "orient": "top-right", "offset": 6}}}},
      {"transform": [{"aggregate": [{"op": "max", "field": "value", "as": "maxv"}]}], "mark": {"type": "rule", "opacity": 0},
       "encoding": {"x": {"field": "maxv", "type": "quantitative", "scale": {"domain": [0, 1], "nice": false}, "axis": {"orient": "top", "title": "Funko POP! Disney: The Lion King Scar Action Figure", "titleFontSize": 13.9, "titlePadding": 5, "labels": false, "ticks": false, "grid": false, "domain": false}}}}
     ]}
  ]
}
